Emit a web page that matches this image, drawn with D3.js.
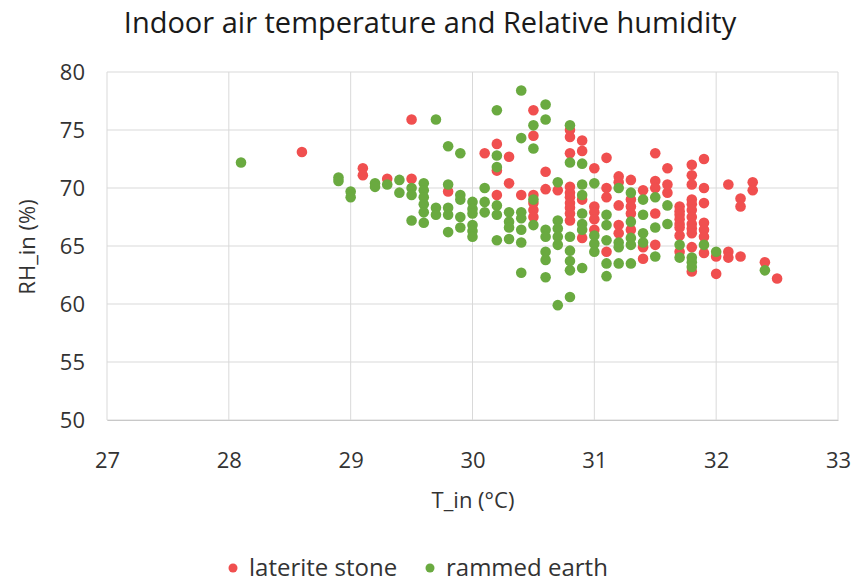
<!DOCTYPE html>
<html>
<head>
<meta charset="utf-8">
<script src="https://cdn.jsdelivr.net/npm/d3@7"></script>
<style>
  body { margin: 0; background: #fff; }
  text { font-family: "Open Sans", "Noto Sans", sans-serif; }
</style>
</head>
<body>
<div id="chart"></div>
<script>
// chart values: [T_in, RH_in]
const lateriteStone = [
  [28.6, 73.1], [29.1, 71.7], [29.1, 71.1], [29.3, 70.8], [29.5, 75.9], [29.5, 70.8],
  [29.8, 69.7], [30.1, 73.0], [30.2, 73.8], [30.2, 71.5], [30.2, 69.4], [30.3, 72.7],
  [30.3, 70.4], [30.4, 69.4], [30.5, 76.7], [30.5, 74.5], [30.5, 69.4], [30.5, 68.7],
  [30.5, 68.1], [30.5, 67.5], [30.6, 71.4], [30.6, 69.9], [30.7, 69.8],
  [30.8, 75.0], [30.8, 74.4], [30.8, 73.0], [30.8, 70.1], [30.8, 69.6], [30.8, 69.2],
  [30.8, 68.7], [30.8, 68.3], [30.8, 67.8], [30.8, 67.2],
  [30.9, 74.1], [30.9, 73.2], [30.9, 69.0], [30.9, 65.7],
  [31.0, 71.7], [31.0, 68.4], [31.0, 67.9], [31.0, 67.3], [31.0, 66.4],
  [31.1, 72.6], [31.1, 70.0], [31.1, 69.2], [31.1, 64.5],
  [31.2, 71.0], [31.2, 70.5], [31.2, 68.5], [31.2, 66.8], [31.2, 66.1],
  [31.3, 70.7], [31.3, 69.0], [31.3, 68.4], [31.3, 67.8], [31.3, 66.4],
  [31.4, 69.8], [31.4, 64.9], [31.4, 63.9],
  [31.5, 73.0], [31.5, 70.6], [31.5, 70.0], [31.5, 67.8], [31.5, 65.1],
  [31.6, 71.7], [31.6, 70.3], [31.6, 69.6],
  [31.7, 68.4], [31.7, 68.0], [31.7, 67.7], [31.7, 67.3], [31.7, 66.9], [31.7, 66.6],
  [31.7, 65.9], [31.7, 64.5],
  [31.8, 72.0], [31.8, 71.1], [31.8, 70.3], [31.8, 69.0], [31.8, 68.6], [31.8, 68.1],
  [31.8, 67.5], [31.8, 66.9], [31.8, 66.5], [31.8, 66.1], [31.8, 64.9], [31.8, 62.8],
  [31.9, 72.5], [31.9, 70.0], [31.9, 68.7], [31.9, 67.0], [31.9, 66.4], [31.9, 65.8],
  [31.9, 64.4],
  [32.0, 64.1], [32.0, 62.6], [32.1, 70.3], [32.1, 64.5], [32.1, 64.0],
  [32.2, 69.1], [32.2, 68.4], [32.2, 64.1], [32.3, 70.5], [32.3, 69.8],
  [32.4, 63.6], [32.5, 62.2]
];

const rammedEarth = [
  [28.1, 72.2], [28.9, 70.9], [28.9, 70.6], [29.0, 69.7], [29.0, 69.2],
  [29.2, 70.4], [29.2, 70.1], [29.3, 70.3], [29.4, 70.7], [29.4, 69.6],
  [29.5, 70.0], [29.5, 69.4], [29.5, 67.2],
  [29.6, 70.4], [29.6, 69.8], [29.6, 69.2], [29.6, 68.6], [29.6, 67.9], [29.6, 67.0],
  [29.7, 75.9], [29.7, 68.3], [29.7, 67.7],
  [29.8, 73.6], [29.8, 70.3], [29.8, 68.3], [29.8, 67.7], [29.8, 66.2],
  [29.9, 73.0], [29.9, 69.4], [29.9, 69.0], [29.9, 67.5], [29.9, 66.6],
  [30.0, 68.8], [30.0, 68.2], [30.0, 67.8], [30.0, 66.8], [30.0, 66.3], [30.0, 65.8],
  [30.1, 70.0], [30.1, 68.8], [30.1, 67.9],
  [30.2, 76.7], [30.2, 72.8], [30.2, 71.8], [30.2, 68.5], [30.2, 67.7], [30.2, 65.5],
  [30.3, 67.9], [30.3, 67.1], [30.3, 66.6], [30.3, 65.6],
  [30.4, 78.4], [30.4, 74.3], [30.4, 67.9], [30.4, 67.4], [30.4, 66.4], [30.4, 65.3],
  [30.4, 62.7],
  [30.5, 75.4], [30.5, 73.4], [30.5, 69.0], [30.5, 66.8],
  [30.6, 77.2], [30.6, 75.9], [30.6, 66.4], [30.6, 65.8], [30.6, 64.5], [30.6, 63.8],
  [30.6, 62.3],
  [30.7, 70.5], [30.7, 67.2], [30.7, 66.5], [30.7, 65.8], [30.7, 65.1], [30.7, 59.9],
  [30.8, 75.4], [30.8, 72.2], [30.8, 65.8], [30.8, 64.6], [30.8, 63.7], [30.8, 62.9],
  [30.8, 60.6],
  [30.9, 72.1], [30.9, 70.3], [30.9, 69.4], [30.9, 67.8], [30.9, 66.9], [30.9, 66.4],
  [30.9, 63.1],
  [31.0, 70.4], [31.0, 65.9], [31.0, 65.2], [31.0, 64.5],
  [31.1, 67.7], [31.1, 66.8], [31.1, 65.5], [31.1, 63.5], [31.1, 62.4],
  [31.2, 70.0], [31.2, 65.3], [31.2, 64.9], [31.2, 63.5],
  [31.3, 69.6], [31.3, 67.1], [31.3, 65.7], [31.3, 65.1], [31.3, 63.5],
  [31.4, 69.0], [31.4, 67.7], [31.4, 66.1], [31.4, 65.3],
  [31.5, 69.2], [31.5, 66.6], [31.5, 64.1],
  [31.6, 68.5], [31.6, 66.9], [31.7, 65.1], [31.7, 64.0],
  [31.8, 64.0], [31.8, 63.6], [31.8, 63.2], [31.9, 65.1], [32.0, 64.5], [32.4, 62.9]
];

const xTicks = [27, 28, 29, 30, 31, 32, 33];
const yTicks = [50, 55, 60, 65, 70, 75, 80];
const seriesNames = ["laterite stone", "rammed earth"];
const seriesColors = ["#f04f4f", "#6aaa40"];

const W = 854, H = 584;
const margin = { top: 72, right: 16, bottom: 164, left: 107 };
const width = W - margin.left - margin.right;
const height = H - margin.top - margin.bottom;

const svg = d3.select("#chart").append("svg")
    .attr("width", W)
    .attr("height", H);

// title
svg.append("text")
    .attr("x", 430)
    .attr("y", 33)
    .attr("text-anchor", "middle")
    .attr("font-size", 29)
    .attr("fill", "#1a1a1a")
    .text("Indoor air temperature and Relative humidity");

const g = svg.append("g")
    .attr("transform", `translate(${margin.left}, ${margin.top})`);

const x = d3.scaleLinear().domain([27, 33]).range([0, width]);
const y = d3.scaleLinear().domain([50, 80]).range([height, 0]);

// gridlines
g.append("g")
    .selectAll("line.v")
    .data(xTicks)
    .enter().append("line")
    .attr("x1", d => x(d)).attr("x2", d => x(d))
    .attr("y1", 0).attr("y2", height)
    .attr("stroke", "#d9d9d9");

g.append("g")
    .selectAll("line.h")
    .data(yTicks)
    .enter().append("line")
    .attr("x1", 0).attr("x2", width)
    .attr("y1", d => y(d)).attr("y2", d => y(d))
    .attr("stroke", "#d9d9d9");

// axes (labels only, lines come from the grid)
const xAxis = g.append("g")
    .attr("transform", `translate(0, ${height})`)
    .call(d3.axisBottom(x).tickValues(xTicks).tickFormat(d3.format("d")).tickSize(0).tickPadding(32));
xAxis.select(".domain").attr("stroke", "#c8c8c8");
xAxis.selectAll("text").attr("font-size", 22).attr("fill", "#333")
    .attr("font-family", "Open Sans, sans-serif");

const yAxis = g.append("g")
    .call(d3.axisLeft(y).tickValues(yTicks).tickFormat(d3.format("d")).tickSize(0).tickPadding(22));
yAxis.select(".domain").remove();
yAxis.selectAll("text").attr("font-size", 22).attr("fill", "#333")
    .attr("font-family", "Open Sans, sans-serif");

// axis titles
svg.append("text")
    .attr("x", 473)
    .attr("y", 508)
    .attr("text-anchor", "middle")
    .attr("font-size", 22)
    .attr("fill", "#333")
    .text("T_in (°C)");

svg.append("text")
    .attr("transform", "translate(35, 247) rotate(-90)")
    .attr("text-anchor", "middle")
    .attr("font-size", 22)
    .attr("fill", "#333")
    .text("RH_in (%)");

// points
[lateriteStone, rammedEarth].forEach((data, i) => {
    g.append("g")
        .selectAll("circle")
        .data(data)
        .enter().append("circle")
        .attr("cx", d => x(d[0]))
        .attr("cy", d => y(d[1]))
        .attr("r", 5.3)
        .attr("fill", seriesColors[i]);
});

// legend
const legend = svg.append("g").attr("transform", "translate(0, 568)");
const legendX = [233, 430];
seriesNames.forEach((name, i) => {
    legend.append("circle")
        .attr("cx", legendX[i])
        .attr("cy", 0)
        .attr("r", 4.5)
        .attr("fill", seriesColors[i]);
    legend.append("text")
        .attr("x", legendX[i] + 16)
        .attr("y", 8)
        .attr("font-size", 24)
        .attr("fill", "#333")
        .text(name);
});
</script>
</body>
</html>
